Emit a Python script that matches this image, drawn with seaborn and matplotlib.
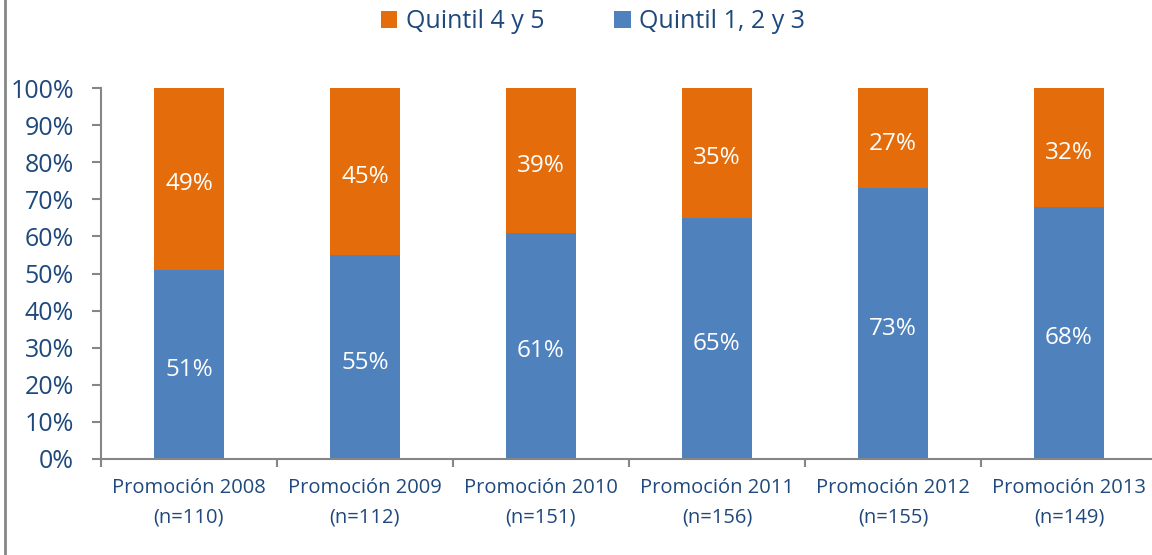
import matplotlib
matplotlib.use("Agg")
import matplotlib.pyplot as plt
import seaborn as sns
import pandas as pd
import numpy as np
from matplotlib.lines import Line2D
from matplotlib.patches import Patch
from matplotlib.ticker import FixedLocator

categories = ["Promoción 2008\n(n=110)", "Promoción 2009\n(n=112)", "Promoción 2010\n(n=151)",
              "Promoción 2011\n(n=156)", "Promoción 2012\n(n=155)", "Promoción 2013\n(n=149)"]
q123 = [51, 55, 61, 65, 73, 68]
q45 = [49, 45, 39, 35, 27, 32]
series_names = ["Quintil 4 y 5", "Quintil 1, 2 y 3"]

ORANGE = "#E46C0A"
BLUE = "#4F81BD"
TEXT = "#1F497D"
GRAY = "#868686"

sns.set_theme(style="white")
plt.rcParams['font.family'] = ['Open Sans', 'DejaVu Sans']

fig = plt.figure(figsize=(11.52, 5.55), dpi=100)
ax = fig.add_axes([101/1152, 1-459/555, 1056/1152, (459-88)/555])

df = pd.DataFrame({"cat": categories, "q123": q123, "q45": q45})
sns.barplot(data=df, x="cat", y="q123", color=BLUE, width=0.4, saturation=1, ax=ax,
            edgecolor="none", linewidth=0)
sns.barplot(data=df, x="cat", y="q45", bottom=df["q123"], color=ORANGE, width=0.4, saturation=1, ax=ax,
            edgecolor="none", linewidth=0)

for i, (b, o) in enumerate(zip(q123, q45)):
    ax.text(i, b/2 - 1.5, f"{b}%", ha="center", va="center", color="white", fontsize=17.5)
    ax.text(i, b + o/2 - 1.5, f"{o}%", ha="center", va="center", color="white", fontsize=17.5)

ax.set_xlim(-0.5, 5.5)
ax.set_ylim(0, 100)
ax.set_yticks(np.arange(0, 101, 10))
ax.set_yticklabels([f"{v}%" for v in range(0, 101, 10)])
ax.set_xlabel("")
ax.set_ylabel("")

for s in ["top", "right"]:
    ax.spines[s].set_visible(False)
for s in ["left", "bottom"]:
    ax.spines[s].set_color(GRAY)
    ax.spines[s].set_linewidth(1.5)

ax.tick_params(axis="y", which="major", direction="out", length=6.5, width=1.5, color=GRAY,
               labelcolor=TEXT, labelsize=18, pad=13, left=True)
ax.xaxis.set_minor_locator(FixedLocator(np.arange(-0.5, 6.0, 1.0)))
ax.tick_params(axis="x", which="minor", direction="out", length=6, width=1.5, color=GRAY, bottom=True)
ax.tick_params(axis="x", which="major", length=0, labelcolor=TEXT, labelsize=14.5, pad=14)
for lbl in ax.get_xticklabels():
    lbl.set_linespacing(1.6)
ax.grid(False)

handles = [Patch(facecolor=ORANGE, edgecolor="none"), Patch(facecolor=BLUE, edgecolor="none")]
fig.legend(handles, series_names, loc="center", bbox_to_anchor=(593/1152, 1-22/555), ncol=2,
           frameon=False, fontsize=18, labelcolor=TEXT, handlelength=0.65, handleheight=0.65,
           handletextpad=0.35, columnspacing=2.8)

fig.add_artist(Line2D([5/1152, 5/1152], [0, 1], color=GRAY, linewidth=2, transform=fig.transFigure))

fig.savefig("out.png", dpi=100)
